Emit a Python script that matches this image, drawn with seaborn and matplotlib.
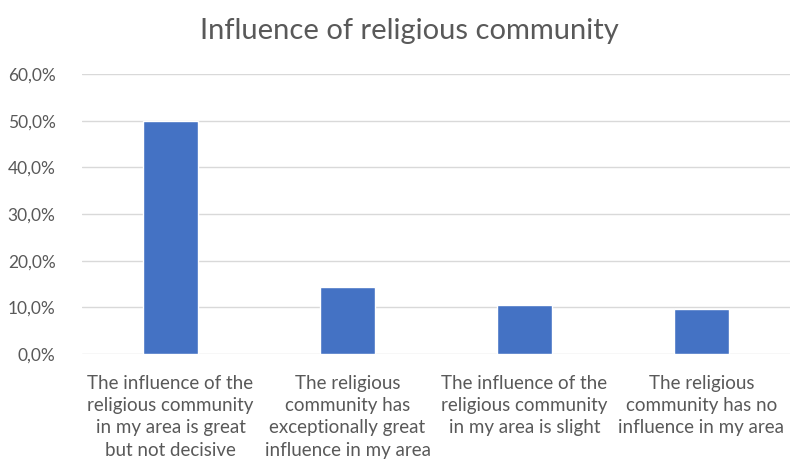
import matplotlib
matplotlib.use("Agg")
import matplotlib.pyplot as plt
import seaborn as sns
import pandas as pd
from matplotlib.ticker import FuncFormatter

# data
categories = [
    "The influence of the\nreligious community\nin my area is great\nbut not decisive",
    "The religious\ncommunity has\nexceptionally great\ninfluence in my area",
    "The influence of the\nreligious community\nin my area is slight",
    "The religious\ncommunity has no\ninfluence in my area",
]
shares = [0.500, 0.144, 0.106, 0.096]
y_ticks = [0.0, 0.1, 0.2, 0.3, 0.4, 0.5, 0.6]

df = pd.DataFrame({"category": categories, "share": shares})

sns.set_style("white")
plt.rcParams["font.family"] = ["Lato", "DejaVu Sans"]

fig = plt.figure(figsize=(7.91, 4.65), dpi=100)
ax = fig.add_axes([0.1037, 0.2387, 0.895, 0.6022])

sns.barplot(data=df, x="category", y="share", color="#4472C4",
            width=0.315, saturation=1, ax=ax, zorder=3)

ax.set_ylim(0, 0.6)
ax.set_yticks(y_ticks)
ax.yaxis.set_major_formatter(FuncFormatter(lambda v, p: f"{v*100:.1f}%".replace(".", ",")))
ax.grid(axis="y", color="#d9d9d9", linewidth=1, zorder=0)
ax.set_axisbelow(True)
for s in ax.spines.values():
    s.set_visible(False)

ax.tick_params(axis="both", length=0, colors="#595959", labelsize=12.5)
ax.tick_params(axis="y", pad=19)
ax.tick_params(axis="x", pad=15)
for lbl in ax.get_xticklabels():
    lbl.set_linespacing(1.38)
    lbl.set_fontsize(13.5)
ax.set_xlabel("")
ax.set_ylabel("")

fig.suptitle("Influence of religious community", x=0.517, y=0.962,
             fontsize=21, color="#595959")

fig.savefig("out.png", dpi=100)
